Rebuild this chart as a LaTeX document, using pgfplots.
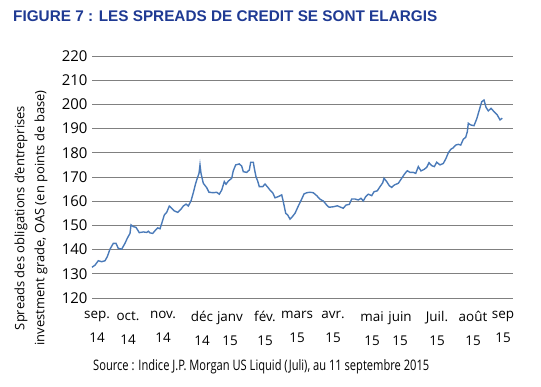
\documentclass[border=0pt]{standalone}
\usepackage{pgfplots}
\pgfplotsset{compat=1.18}
\usepackage{fontspec}
\setmainfont{Open Sans}
\newfontfamily\titlefont{Liberation Sans}
\definecolor{titleblue}{HTML}{1F3A93}
\definecolor{lineblue}{HTML}{4A7AB8}
\definecolor{gridgray}{HTML}{808080}
\begin{document}
\begin{tikzpicture}[x=1bp,y=1bp]
\path[use as bounding box] (0,0) rectangle (541,386);
\node[anchor=west,inner sep=0pt,text=titleblue,font=\titlefont\bfseries\fontsize{15.5}{17}\selectfont] at (13,370) {\resizebox{424bp}{\height}{FIGURE 7 : LES SPREADS DE CREDIT SE SONT ELARGIS}};
\node[rotate=90,align=center,inner sep=0pt,font=\fontsize{13}{20}\selectfont] at (31,168) {Spreads des obligations d'entreprises\\investment grade, OAS (en points de base)};
\node[anchor=west,inner sep=0pt,font=\fontsize{14.5}{16}\selectfont] at (93,19) {\resizebox{336bp}{\height}{Source : Indice J.P. Morgan US Liquid (Juli), au 11 septembre 2015}};
\begin{axis}[
  at={(92bp,88bp)}, anchor=south west,
  scale only axis, width=421bp, height=242bp,
  xmin=0, xmax=421, ymin=120, ymax=220,
  axis line style={draw=none},
  ytick={120,130,...,220},
  ymajorgrids, grid style={gridgray, line width=0.9pt},
  major tick length=0pt,
  xtick={5,36,71,110,138,173,205,241,280,308,345,381,411},
  xticklabels={sep.\\[8bp]14,oct.\\[8bp]14,nov.\\[8bp]14,déc\\[8bp]14,janv\\[8bp]15,fév.\\[8bp]15,mars\\[8bp]15,avr.\\[8bp]15,mai\\[8bp]15,juin\\[8bp]15,Juil.\\[8bp]15,août\\[8bp]15,sep\\[8bp]15},
  xticklabel style={align=center, font=\fontsize{13.5}{16}\selectfont, yshift=-10bp},
  yticklabel style={font=\fontsize{15}{17}\selectfont, xshift=-1bp},
  /pgf/number format/assume math mode=true,
  clip=false,
]
\addplot[lineblue, line width=1.4pt] coordinates {
(0,132.7) (3,133.6) (6.3,135.4) (9.7,135) (13,135.4) (15.3,137.1) (18,140.2) (21.3,142.6) (24,142.6)
(26.3,140.5) (29.7,140.2) (33,142.6) (35.3,144.7) (38,146.7) (39,150.2) (41.3,149.5) (44,149.2)
(47.3,147) (51.3,147.3) (54.7,147.1) (56.3,147.6) (58,146.9) (60.7,146.7) (63,147.8) (65.7,149)
(68,148.6) (69.7,150.8) (72.3,154.3) (74.7,155.4) (77.3,158) (79.7,157.1) (82.3,156) (85.7,155.4)
(89,156.7) (91.3,158) (94,158.8) (96.3,158) (99,160.1) (101.3,163.5) (103.7,167.4) (105.3,169.5)
(107,171.5) (108,175) (109,171.5) (111.3,167.4) (114.7,165.6) (117,163.7) (121.3,163.5) (124.7,163.7)
(127.3,162.9) (129.7,164.6) (132.3,168.1) (134,167) (136.3,168.3) (139.7,169.5) (141.3,172.6)
(143.7,175) (147.3,175.4) (149.7,174.5) (151.3,172.2) (154.7,171.9) (157.3,172.9) (158.7,176.1)
(161.3,176.1) (162.3,173.6) (164,170.1) (165.7,168.3) (167.3,166) (170.7,166) (173,167.1) (175.3,166)
(178,164.6) (180.7,163.5) (183,161.4) (186.3,161.9) (189.7,162.6) (191.3,159.8) (193.7,155) (195.7,154.3)
(198,152.6) (200.3,153.6) (203,155) (206.3,158) (209.7,160.9) (212,163) (214.7,163.5) (218,163.7)
(221.3,163.5) (224.7,162.3) (228,160.8) (231.3,160.1) (234.7,158.4) (237,157.5) (241.3,157.7)
(245.3,158.1) (248.7,157.5) (251.3,157.1) (254,158.4) (257.3,158.7) (259.7,160.9) (263,160.9)
(266.3,160.5) (269,161.2) (271.3,160.1) (273.7,161.9) (276.3,162.9) (279.7,162.3) (282,163.9)
(285.3,164.3) (288,166) (290.7,167.6) (292,169.5) (294.7,168.1) (297.3,166.4) (299.7,165.7)
(302.3,166.7) (306.3,167.4) (309.7,169.5) (313,171.5) (315.3,172.6) (318,171.9) (321.3,171.9)
(323.7,171.5) (326.3,174.3) (329,172.5) (332.3,173.2) (334.7,174) (337,175.9) (339.7,174.7)
(342.3,174.3) (344.7,176.1) (348,175) (351.3,175.6) (354,177.7) (356.3,180) (358.7,181.4)
(361.3,182.1) (363.7,183.2) (366.3,183.5) (368.7,183.2) (371.3,185.6) (373.7,186.4) (375.3,188.7)
(376.3,192.2) (378.7,191.5) (382,191.2) (384.7,194) (387.3,197.7) (389.7,201.1) (392,201.8)
(394,198.8) (396.3,197.3) (399,198.4) (402,197) (405.3,195.6) (408,193.6) (410.3,194.3)
};
\end{axis}
\end{tikzpicture}
\end{document}
